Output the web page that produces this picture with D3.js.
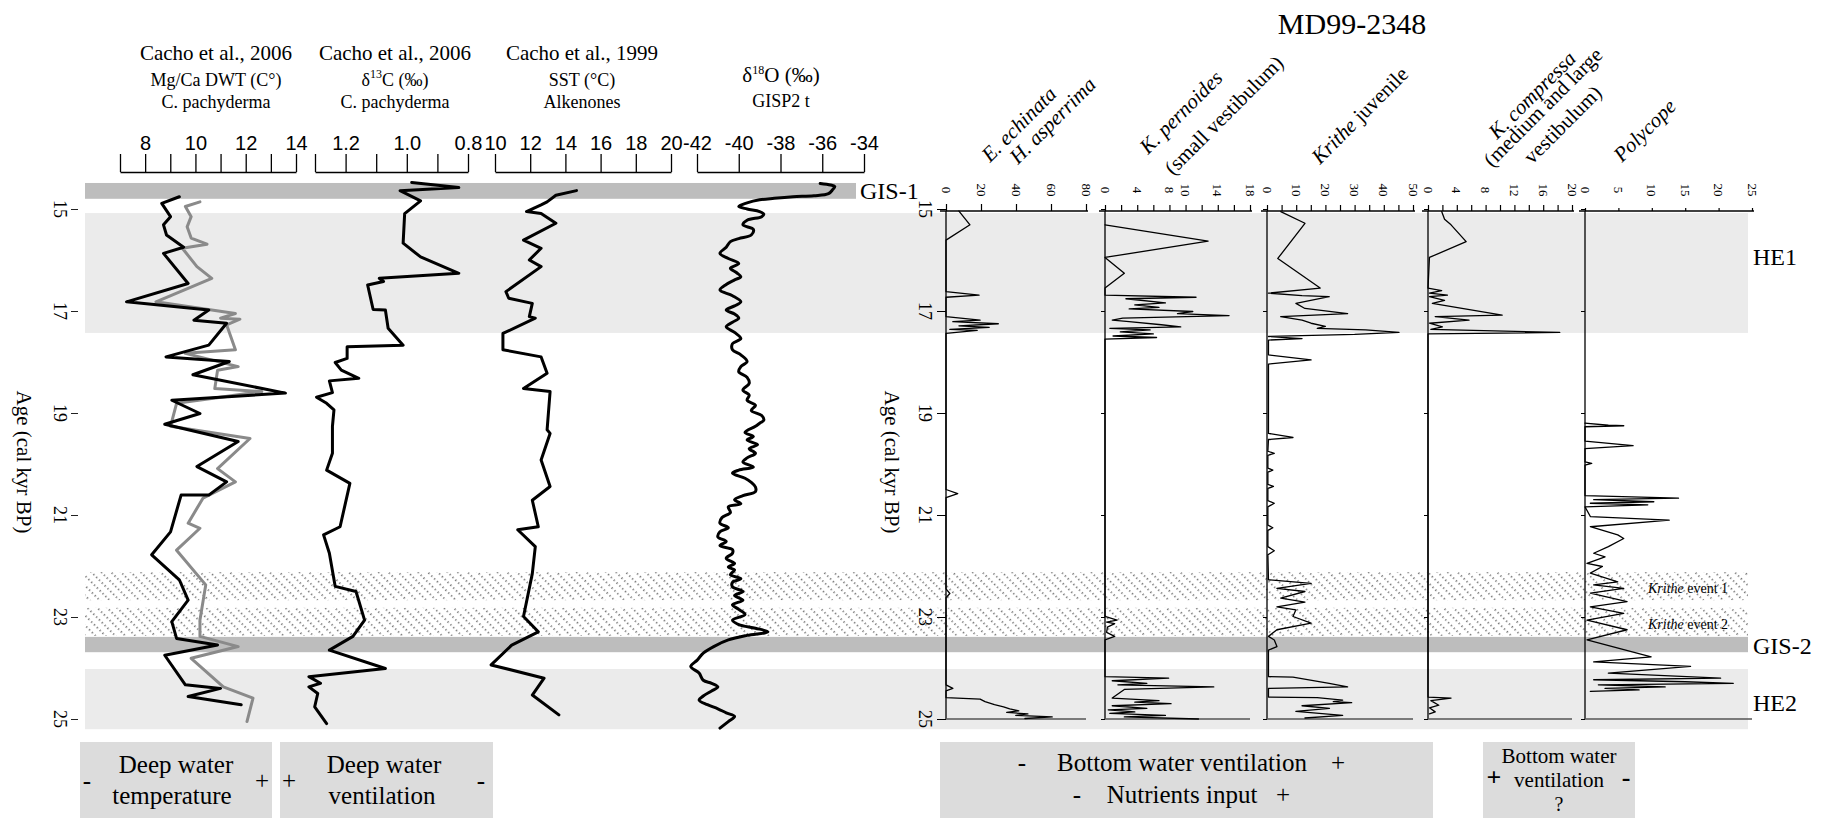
<!DOCTYPE html>
<html>
<head>
<meta charset="utf-8">
<script src="https://cdn.jsdelivr.net/npm/d3@7"></script>
<style>
  body { margin: 0; background: #fff; }
  svg { display: block; font-family: "Liberation Serif", "DejaVu Serif", serif; }
</style>
</head>
<body>
<svg id="chart" width="1832" height="818"></svg>
<script>
// age axis (cal kyr BP)
const ageTicks = [15, 17, 19, 21, 23, 25];

// shaded intervals, ages in kyr
const gis1 = [14.49, 14.80];
const he1 = [15.08, 17.43];
const kritheEvent1 = [22.12, 22.67];
const kritheEvent2 = [22.82, 23.37];
const gis2 = [23.39, 23.69];
const he2 = [24.02, 25.20];

// left panel series, [age, value]
const mgcaBlack = [[14.76,9.36],[14.89,8.66],[15.15,9.01],[15.31,8.73],[15.51,8.85],[15.75,9.53],[15.87,8.73],[16.46,9.71],[16.82,7.26],[16.98,10.53],[17.18,9.94],[17.24,11.24],[17.67,10.53],[17.90,8.83],[17.99,11.35],[18.25,9.90],[18.61,13.58],[18.75,9.06],[19.01,10.18],[19.22,8.78],[19.56,11.70],[20.05,10.06],[20.35,11.24],[20.61,10.53],[20.61,9.43],[21.33,9.01],[21.78,8.26],[22.27,9.36],[22.67,9.71],[23.09,9.06],[23.42,9.25],[23.55,10.88],[23.75,8.78],[24.33,9.60],[24.40,11.00],[24.56,9.71],[24.72,11.82]];
const mgcaGrey = [[14.86,10.18],[14.95,9.60],[15.15,9.83],[15.35,9.67],[15.57,9.83],[15.69,10.46],[15.77,9.48],[16.13,10.06],[16.36,10.65],[16.82,8.43],[17.05,11.59],[17.14,11.00],[17.16,11.77],[17.27,11.24],[17.76,11.59],[17.83,9.60],[18.09,11.70],[18.16,10.88],[18.52,10.77],[18.58,12.64],[18.81,9.25],[19.26,9.01],[19.50,12.17],[20.09,10.88],[20.35,11.59],[20.67,10.30],[21.16,9.71],[21.26,10.18],[21.69,9.25],[22.37,10.41],[23.06,10.18],[23.38,10.18],[23.58,11.70],[23.81,9.83],[24.37,11.11],[24.59,12.29],[25.05,12.05]];
const d13c = [[14.48,0.984],[14.58,0.830],[14.64,1.022],[14.84,0.955],[15.09,1.007],[15.67,1.012],[15.94,0.955],[16.26,0.830],[16.36,1.090],[16.42,1.076],[16.49,1.128],[16.97,1.110],[16.98,1.070],[17.34,1.061],[17.67,1.012],[17.70,1.195],[17.93,1.195],[18.01,1.234],[18.16,1.214],[18.32,1.157],[18.37,1.253],[18.60,1.243],[18.69,1.295],[18.81,1.262],[18.94,1.238],[19.26,1.243],[19.79,1.243],[20.12,1.262],[20.38,1.186],[21.23,1.218],[21.39,1.272],[21.75,1.253],[22.40,1.234],[22.50,1.166],[23.06,1.138],[23.38,1.176],[23.65,1.253],[24.01,1.070],[24.17,1.320],[24.30,1.282],[24.37,1.320],[24.50,1.291],[24.76,1.301],[25.09,1.262]];
const sst = [[14.64,14.63],[14.73,13.46],[14.86,12.96],[14.92,12.62],[15.05,11.79],[15.09,12.62],[15.28,13.46],[15.61,11.62],[15.77,12.62],[16.00,11.95],[16.13,12.62],[16.62,10.62],[16.75,10.78],[16.85,12.12],[17.11,11.95],[17.14,12.29],[17.44,10.45],[17.76,10.45],[17.90,12.62],[18.22,12.96],[18.52,11.62],[18.58,13.13],[19.33,12.96],[19.40,13.13],[19.92,12.62],[20.44,13.13],[20.71,12.12],[21.23,12.46],[21.29,11.29],[21.62,12.29],[22.15,12.12],[22.99,11.62],[23.29,12.46],[23.55,10.95],[23.94,9.78],[24.20,12.79],[24.53,12.12],[24.92,13.63]];
const d18o = [[14.50,-36.1],[14.53,-35.6],[14.56,-35.4],[14.62,-35.5],[14.70,-35.7],[14.74,-36.4],[14.76,-37.4],[14.79,-38.3],[14.82,-39.0],[14.88,-39.6],[14.95,-40.0],[15.00,-39.6],[15.05,-39.0],[15.10,-38.8],[15.15,-38.9],[15.22,-39.6],[15.31,-39.8],[15.40,-39.3],[15.51,-39.4],[15.58,-40.0],[15.64,-40.4],[15.75,-40.6],[15.87,-40.9],[15.97,-40.5],[16.07,-40.0],[16.16,-40.4],[16.25,-40.1],[16.33,-39.9],[16.39,-40.2],[16.48,-40.6],[16.59,-40.9],[16.70,-40.3],[16.82,-39.9],[16.90,-40.2],[16.98,-40.6],[17.06,-40.2],[17.14,-40.0],[17.22,-40.3],[17.31,-40.6],[17.42,-40.2],[17.54,-39.9],[17.64,-40.3],[17.76,-40.3],[17.86,-39.9],[17.99,-39.6],[18.09,-39.9],[18.19,-40.0],[18.30,-39.6],[18.42,-39.5],[18.55,-39.8],[18.65,-39.5],[18.75,-39.6],[18.85,-39.2],[18.95,-39.4],[19.05,-38.9],[19.14,-38.8],[19.20,-39.0],[19.26,-39.2],[19.38,-39.7],[19.46,-39.3],[19.53,-39.6],[19.62,-39.1],[19.70,-39.5],[19.79,-39.2],[19.88,-39.6],[19.96,-39.8],[20.06,-39.3],[20.12,-40.0],[20.18,-40.3],[20.28,-39.7],[20.36,-39.4],[20.45,-39.2],[20.54,-39.2],[20.62,-39.8],[20.70,-40.2],[20.78,-39.9],[20.84,-40.5],[20.95,-40.4],[21.05,-40.8],[21.16,-40.9],[21.25,-40.5],[21.33,-40.9],[21.43,-41.0],[21.52,-40.6],[21.60,-40.9],[21.68,-40.3],[21.75,-40.3],[21.85,-40.6],[21.95,-40.2],[22.02,-40.5],[22.08,-40.2],[22.17,-40.4],[22.25,-39.9],[22.32,-40.3],[22.41,-40.3],[22.50,-39.8],[22.58,-40.2],[22.67,-39.8],[22.76,-40.3],[22.85,-40.0],[22.95,-39.7],[23.06,-40.3],[23.15,-40.0],[23.22,-39.2],[23.29,-38.6],[23.36,-39.6],[23.45,-40.5],[23.58,-41.2],[23.71,-41.7],[23.85,-42.0],[23.97,-42.3],[24.10,-41.9],[24.24,-41.7],[24.30,-41.3],[24.37,-41.0],[24.45,-41.3],[24.55,-41.7],[24.63,-41.9],[24.72,-41.5],[24.80,-41.0],[24.88,-40.6],[24.95,-40.2],[25.05,-40.5],[25.18,-40.9]];

// right panel (MD99-2348) series, [age, abundance]
const echinata = [[15.04,7.4],[15.31,13.7],[15.61,0],[16.62,0],[16.69,18.9],[16.73,0],[17.11,0],[17.18,19.5],[17.21,3.9],[17.25,29.9],[17.29,7.4],[17.32,24.7],[17.36,2.2],[17.38,17.8],[17.44,0],[20.50,0],[20.58,6.7],[20.66,0],[22.45,0],[22.54,2.2],[22.62,0],[24.33,0],[24.40,3.9],[24.45,0],[24.58,0],[24.61,19.5],[24.66,22.3],[24.72,27.7],[24.76,32.9],[24.80,36.4],[24.84,41.6],[24.87,34.7],[24.90,46.8],[24.93,39.9],[24.96,60.7],[24.99,45.1]];
const pernoides = [[15.31,0],[15.63,12.8],[15.95,0],[16.26,2.4],[16.55,0],[16.69,0],[16.73,11.3],[16.76,2.6],[16.84,7.5],[16.88,3.7],[16.93,6.7],[16.96,3.0],[17.01,10.9],[17.05,9.0],[17.09,15.4],[17.14,2.2],[17.18,0.9],[17.21,3.0],[17.27,7.0],[17.31,9.4],[17.34,0.6],[17.37,5.6],[17.41,1.9],[17.45,6.0],[17.49,1.0],[17.52,6.4],[17.55,0],[22.99,0],[23.06,1.5],[23.10,0.2],[23.13,1.2],[23.20,0.3],[23.30,0.2],[23.38,1.2],[23.45,0],[24.17,0],[24.20,7.9],[24.25,0.9],[24.30,5.2],[24.33,1.6],[24.37,13.5],[24.42,2.4],[24.59,0.9],[24.64,6.7],[24.67,3.7],[24.70,8.2],[24.74,0.9],[24.79,5.2],[24.82,0.4],[24.86,3.7],[24.89,0.6],[24.93,7.5],[24.96,2.4],[25.00,11.6]];
const juvenile = [[15.05,4.7],[15.28,13.0],[15.97,3.7],[16.55,18.2],[16.65,0.5],[16.70,12.0],[16.72,21.3],[16.85,9.9],[16.95,13.0],[17.05,27.6],[17.11,4.7],[17.18,12.0],[17.24,15.1],[17.30,20.0],[17.34,17.2],[17.37,33.8],[17.42,45.2],[17.46,30.0],[17.50,0.5],[17.54,12.0],[17.57,0.5],[17.86,0.5],[17.96,15.1],[18.04,0.5],[19.40,0.5],[19.48,8.9],[19.52,0.5],[19.75,0.3],[19.79,2.5],[19.83,0.3],[20.08,0.3],[20.12,2.0],[20.16,0.3],[20.40,0.3],[20.44,2.2],[20.48,0.3],[20.72,0.3],[20.77,2.5],[20.84,0.3],[21.20,0.3],[21.25,2.0],[21.30,0.3],[21.62,0.3],[21.70,2.5],[21.78,0.3],[22.27,0.5],[22.34,15.1],[22.44,3.4],[22.50,13.0],[22.63,4.7],[22.71,13.0],[22.80,3.4],[22.86,9.9],[22.99,8.9],[23.12,15.1],[23.25,3.4],[23.38,0.5],[23.45,2.5],[23.58,3.4],[23.65,0.5],[24.17,0.5],[24.18,8.9],[24.30,21.3],[24.37,27.6],[24.40,0.5],[24.57,0.5],[24.58,17.2],[24.63,25.9],[24.66,22.7],[24.68,29.0],[24.74,12.0],[24.79,21.4],[24.85,9.9],[24.93,25.9],[24.98,13.0]];
const compressa = [[15.05,1.9],[15.20,2.3],[15.31,3.2],[15.64,5.3],[15.95,0.2],[16.55,0],[16.60,1.9],[16.65,0.2],[16.69,2.7],[16.72,0.2],[16.79,2.3],[16.85,0.6],[17.08,10.3],[17.11,1.0],[17.18,5.7],[17.24,0.2],[17.31,2.0],[17.36,0.4],[17.42,18.3],[17.45,0],[24.57,0],[24.59,3.2],[24.64,0.4],[24.73,1.5],[24.78,0.2],[24.86,1.0],[24.90,0.2]];
const polycope = [[19.20,0],[19.24,3.5],[19.25,5.8],[19.27,0],[19.55,0],[19.64,7.2],[19.70,0],[19.96,0],[19.99,1.0],[20.02,0],[20.62,0],[20.67,14.0],[20.70,1.3],[20.74,10.3],[20.77,0.8],[20.80,9.4],[20.84,0],[21.03,0.8],[21.10,12.6],[21.23,0.8],[21.39,4.9],[21.46,5.8],[21.62,3.5],[21.75,1.3],[21.82,3.0],[21.95,0.3],[22.01,2.6],[22.14,0.8],[22.31,4.9],[22.37,1.3],[22.44,5.8],[22.53,0.8],[22.70,6.3],[22.80,0.8],[22.93,5.8],[23.06,0.3],[23.25,6.3],[23.45,0.3],[23.78,9.9],[23.88,1.3],[23.97,15.8],[24.10,3.5],[24.20,20.3],[24.23,1.3],[24.27,15.0],[24.30,22.2],[24.33,2.0],[24.37,12.0],[24.40,3.0],[24.43,8.1],[24.46,0.8]];

// tick values for the top axes
const mgcaTicks = [7, 8, 9, 10, 11, 12, 13, 14];
const mgcaLabels = [8, 10, 12, 14];
const d13cTicks = [1.3, 1.2, 1.1, 1.0, 0.9, 0.8];
const d13cLabels = [1.2, 1.0, 0.8];
const sstTicks = [10, 12, 14, 16, 18, 20];
const d18oTicks = [-42, -40, -38, -36, -34];
const echinataTicks = [0, 20, 40, 60, 80];
const pernoidesTicks = [0, 2, 4, 6, 8, 10, 12, 14, 16, 18];
const pernoidesLabels = [0, 4, 8, 10, 14, 18];
const juvenileTicks = [0, 5, 10, 15, 20, 25, 30, 35, 40, 45, 50];
const juvenileLabels = [0, 10, 20, 30, 40, 50];
const compressaTicks = [0, 2, 4, 6, 8, 10, 12, 14, 16, 18, 20];
const compressaLabels = [0, 4, 8, 12, 16, 20];
const polycopeTicks = [0, 5, 10, 15, 20, 25];

const svg = d3.select("#chart");

const y = d3.scaleLinear().domain([15, 25]).range([209, 719]);

const xMg = d3.scaleLinear().domain([7, 14]).range([120, 296]);
const xC = d3.scaleLinear().domain([1.3, 0.8]).range([315, 468]);
const xSst = d3.scaleLinear().domain([10, 20]).range([495, 671]);
const xO = d3.scaleLinear().domain([-42, -34]).range([697, 864]);

const xEch = d3.scaleLinear().domain([0, 80]).range([946, 1086]);
const xPer = d3.scaleLinear().domain([0, 18]).range([1105, 1250]);
const xJuv = d3.scaleLinear().domain([0, 50]).range([1267, 1413]);
const xCom = d3.scaleLinear().domain([0, 20]).range([1428, 1572]);
const xPol = d3.scaleLinear().domain([0, 25]).range([1585, 1752]);

// dotted hatch for the Krithe events
const defs = svg.append("defs");
defs.append("pattern")
    .attr("id", "hatch")
    .attr("patternUnits", "userSpaceOnUse")
    .attr("width", 7).attr("height", 12)
    .attr("patternTransform", "rotate(-45)")
  .append("line")
    .attr("x1", 3).attr("y1", 0).attr("x2", 3).attr("y2", 12)
    .attr("stroke", "#444").attr("stroke-width", 1.4)
    .attr("stroke-dasharray", "1.2,2.8");

// bands
const bandLeft = 85, bandRight = 1748;
function band(r, fill, x1 = bandRight) {
    svg.append("rect")
        .attr("x", bandLeft).attr("width", x1 - bandLeft)
        .attr("y", y(r[0])).attr("height", y(r[1]) - y(r[0]))
        .attr("fill", fill);
}
band(he1, "#ebebeb");
band(he2, "#ebebeb");
band(kritheEvent1, "url(#hatch)");
band(kritheEvent2, "url(#hatch)");
band(gis2, "#bdbdbd");
band(gis1, "#bdbdbd", 856);

// left age axis
const ageAxisL = svg.append("g").attr("transform", "translate(78,0)")
    .call(d3.axisLeft(y).tickValues(ageTicks).tickSize(7).tickSizeOuter(0).tickFormat(""));
ageAxisL.select(".domain").remove();
ageAxisL.selectAll("line").attr("stroke", "#222");
svg.selectAll(".ageL").data(ageTicks).join("text")
    .attr("transform", d => `translate(60,${y(d)}) rotate(90)`)
    .attr("text-anchor", "middle").attr("dominant-baseline", "central")
    .style("font-size", "18px").text(d => d);
svg.append("text")
    .attr("transform", "translate(24,462) rotate(90)")
    .attr("text-anchor", "middle").attr("dominant-baseline", "central")
    .style("font-size", "21px").text("Age (cal kyr BP)");

// left top axes
const leftAxes = [
    { x: xMg, ticks: mgcaTicks, fmt: d => mgcaLabels.includes(d) ? d : "" },
    { x: xC, ticks: d13cTicks, fmt: d => d13cLabels.includes(d) ? d.toFixed(1) : "" },
    { x: xSst, ticks: sstTicks, fmt: d => d },
    { x: xO, ticks: d18oTicks, fmt: d => d }
];
leftAxes.forEach(a => {
    const g = svg.append("g").attr("transform", "translate(0,172)")
        .call(d3.axisTop(a.x).tickValues(a.ticks).tickSize(18).tickSizeOuter(0)
            .tickPadding(4).tickFormat(a.fmt));
    g.select(".domain").attr("stroke", "#000").attr("stroke-width", 1.6);
    g.selectAll("line").attr("stroke", "#000").attr("stroke-width", 1.3);
    g.selectAll("text").style("font-size", "20px").attr("font-family", null).attr("fill", "#000");
});

// left headers
function header(x, lines) {
    lines.forEach(l => {
        const t = svg.append("text").attr("x", x).attr("y", l.y)
            .attr("text-anchor", "middle").style("font-size", l.size + "px");
        l.parts.forEach(p => {
            const s = t.append("tspan").text(p.t);
            if (p.sup) s.style("font-size", "12px").attr("dy", -8);
            if (p.down) s.attr("dy", 8);
        });
    });
}
header(216, [
    { y: 60, size: 21, parts: [{ t: "Cacho et al., 2006" }] },
    { y: 86, size: 18, parts: [{ t: "Mg/Ca DWT (C°)" }] },
    { y: 108, size: 18, parts: [{ t: "C. pachyderma" }] }
]);
header(395, [
    { y: 60, size: 21, parts: [{ t: "Cacho et al., 2006" }] },
    { y: 86, size: 18, parts: [{ t: "δ" }, { t: "13", sup: true }, { t: "C (‰)", down: true }] },
    { y: 108, size: 18, parts: [{ t: "C. pachyderma" }] }
]);
header(582, [
    { y: 60, size: 21, parts: [{ t: "Cacho et al., 1999" }] },
    { y: 86, size: 18, parts: [{ t: "SST (°C)" }] },
    { y: 108, size: 18, parts: [{ t: "Alkenones" }] }
]);
header(781, [
    { y: 82, size: 21, parts: [{ t: "δ" }, { t: "18", sup: true }, { t: "O (‰)", down: true }] },
    { y: 107, size: 18, parts: [{ t: "GISP2 t" }] }
]);

// left series
function series(data, x, color, width, curve = d3.curveLinear) {
    svg.append("path").datum(data)
        .attr("fill", "none").attr("stroke", color).attr("stroke-width", width)
        .attr("stroke-linejoin", "round").attr("stroke-linecap", "round")
        .attr("d", d3.line().x(d => x(d[1])).y(d => y(d[0])).curve(curve));
}
series(mgcaGrey, xMg, "#8a8a8a", 3);
series(mgcaBlack, xMg, "#000", 3);
series(d13c, xC, "#000", 3);
series(sst, xSst, "#000", 3);
series(d18o, xO, "#000", 3, d3.curveCatmullRom);

// right panel
svg.append("text").attr("x", 1352).attr("y", 34).attr("text-anchor", "middle")
    .style("font-size", "30px").text("MD99-2348");

const rightPanels = [
    { x: xEch, max: 80, ticks: echinataTicks, labels: echinataTicks, data: echinata, tick: 7 },
    { x: xPer, max: 18, ticks: pernoidesTicks, labels: pernoidesLabels, data: pernoides, tick: 6 },
    { x: xJuv, max: 50, ticks: juvenileTicks, labels: juvenileLabels, data: juvenile, tick: 6 },
    { x: xCom, max: 20, ticks: compressaTicks, labels: compressaLabels, data: compressa, tick: 6 },
    { x: xPol, max: 25, ticks: polycopeTicks, labels: polycopeTicks, data: polycope, tick: 3 }
];
rightPanels.forEach((p, i) => {
    const g = svg.append("g").attr("transform", `translate(0,${y(15) + 2})`)
        .call(d3.axisTop(p.x).tickValues(p.ticks).tickSize(p.tick).tickSizeOuter(0).tickFormat(""));
    g.select(".domain").attr("stroke", "#000").attr("stroke-width", 1.5)
        .attr("d", `M${p.x(0) - 6},0H${p.x(p.max) + 2}`);
    g.selectAll("line").attr("stroke", "#000").attr("stroke-width", 1.2);
    svg.selectAll(null).data(p.labels).join("text")
        .attr("transform", d => `translate(${p.x(d)},${y(15) - 19}) rotate(90)`)
        .attr("text-anchor", "middle").attr("dominant-baseline", "central")
        .style("font-size", "13px").text(d => d);
    // zero line with age ticks
    const v = svg.append("g").attr("transform", `translate(${p.x(0)},0)`)
        .call(d3.axisLeft(y).tickValues(ageTicks).tickSize(i === 0 ? 9 : 4).tickSizeOuter(0).tickFormat(""));
    v.select(".domain").attr("stroke", "#000").attr("stroke-width", 1.3)
        .attr("d", `M0,${y(15) + 2}V${y(25)}`);
    v.selectAll("line").attr("stroke", "#000");
    // baseline at 25 kyr
    svg.append("line")
        .attr("x1", p.x(0)).attr("x2", p.x(p.max))
        .attr("y1", y(25)).attr("y2", y(25))
        .attr("stroke", "#555").attr("stroke-width", 1.5);
    series(p.data, p.x, "#000", 1.3);
});

svg.selectAll(".ageR").data(ageTicks).join("text")
    .attr("transform", d => `translate(925,${y(d)}) rotate(90)`)
    .attr("text-anchor", "middle").attr("dominant-baseline", "central")
    .style("font-size", "18px").text(d => d);
svg.append("text")
    .attr("transform", "translate(892,462) rotate(90)")
    .attr("text-anchor", "middle").attr("dominant-baseline", "central")
    .style("font-size", "21px").text("Age (cal kyr BP)");

// rotated taxon headers
const taxa = [
    { x: 990, y: 163, parts: [{ t: "E. echinata", i: true }] },
    { x: 1018, y: 165, parts: [{ t: "H. asperrima", i: true }] },
    { x: 1148, y: 155, parts: [{ t: "K. pernoides", i: true }] },
    { x: 1173, y: 176, parts: [{ t: "(small vestibulum)" }] },
    { x: 1320, y: 165, parts: [{ t: "Krithe", i: true }, { t: " juvenile" }] },
    { x: 1497, y: 140, parts: [{ t: "K. compressa", i: true }] },
    { x: 1492, y: 168, parts: [{ t: "(medium and large" }] },
    { x: 1532, y: 165, parts: [{ t: "vestibulum)" }] },
    { x: 1622, y: 163, parts: [{ t: "Polycope", i: true }] }
];
taxa.forEach(d => {
    const t = svg.append("text")
        .attr("transform", `translate(${d.x},${d.y}) rotate(-45)`)
        .style("font-size", "21px");
    d.parts.forEach(p => t.append("tspan").text(p.t).style("font-style", p.i ? "italic" : null));
});

// interval labels
function label(x, yc, txt, size) {
    svg.append("text").attr("x", x).attr("y", yc)
        .attr("dominant-baseline", "central").style("font-size", size + "px").text(txt);
}
label(860, y(d3.mean(gis1)), "GIS-1", 24);
label(1753, 257, "HE1", 24);
label(1753, y(d3.mean(gis2)) + 1, "GIS-2", 24);
label(1753, 703, "HE2", 24);
[["1", kritheEvent1], ["2", kritheEvent2]].forEach(([n, r]) => {
    const t = svg.append("text").attr("x", 1648).attr("y", y(d3.mean(r)) + 2)
        .attr("dominant-baseline", "central").style("font-size", "14px");
    t.append("tspan").style("font-style", "italic").text("Krithe");
    t.append("tspan").text(" event " + n);
});

// interpretation boxes
const boxes = [
    { x: 80, w: 192 }, { x: 280, w: 213 }, { x: 940, w: 493 }, { x: 1483, w: 152 }
];
svg.selectAll(".box").data(boxes).join("rect")
    .attr("x", d => d.x).attr("y", 742).attr("width", d => d.w).attr("height", 80)
    .attr("fill", "#dcdcdc");
function txt(x, yb, s, size, anchor = "middle", weight = null) {
    svg.append("text").attr("x", x).attr("y", yb).attr("text-anchor", anchor)
        .style("font-size", size + "px").style("font-weight", weight).text(s);
}
txt(87, 789, "-", 25);
txt(176, 773, "Deep water", 25);
txt(172, 804, "temperature", 25);
txt(262, 789, "+", 25);
txt(289, 789, "+", 25);
txt(384, 773, "Deep water", 25);
txt(382, 804, "ventilation", 25);
txt(481, 789, "-", 25);
txt(1022, 771, "-", 25);
txt(1182, 771, "Bottom water ventilation", 25);
txt(1338, 771, "+", 25);
txt(1077, 803, "-", 25);
txt(1182, 803, "Nutrients input", 25);
txt(1283, 803, "+", 25);
txt(1494, 786, "+", 26, "middle", "bold");
txt(1559, 763, "Bottom water", 21);
txt(1559, 787, "ventilation", 21);
txt(1559, 811, "?", 20);
txt(1626, 786, "-", 26, "middle", "bold");
</script>
</body>
</html>
